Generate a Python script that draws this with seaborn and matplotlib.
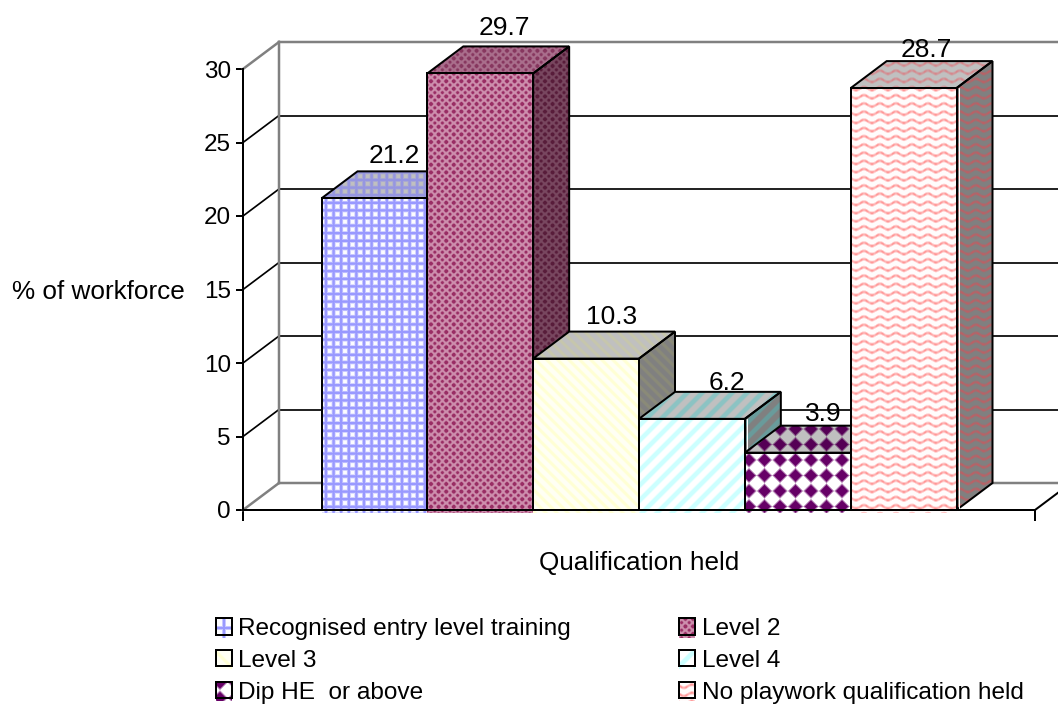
import numpy as np
import pandas as pd
import matplotlib
matplotlib.use("Agg")
import matplotlib.pyplot as plt
import seaborn as sns
from matplotlib.patches import Patch, Polygon, Rectangle
from matplotlib.path import Path
from matplotlib.transforms import IdentityTransform

# Chart data
qualifications = ["Recognised entry level training", "Level 2", "Level 3",
                  "Level 4", "Dip HE  or above", "No playwork qualification held"]
workforce_pct = [21.2, 29.7, 10.3, 6.2, 3.9, 28.7]
y_ticks = [0, 5, 10, 15, 20, 25, 30]

# Canvas and plot geometry (pixels)
W, H = 1058, 704
LEFT, RIGHT, BASE, TOP = 243, 1035, 510, 69
DEPTH_PX = (36, 27)
TITLE_FONT = 18.8
VALUE_FONT = 19
TICK_FONT = 17.5
LEGEND_FONT = 17.6
PX = 72 / 100          # points per pixel

sns.set_theme(style="white")
plt.rcParams["font.family"] = ["Liberation Sans", "DejaVu Sans"]
plt.rcParams["text.color"] = "black"

fig = plt.figure(figsize=(W / 100, H / 100), dpi=100, facecolor="white")
ax = fig.add_axes([LEFT / W, 1 - BASE / H, (RIGHT - LEFT) / W, (BASE - TOP) / H])
ax.set_facecolor("none")

frame = pd.DataFrame({"group": ["all"] * len(workforce_pct),
                      "qualification": qualifications,
                      "pct": workforce_pct})
base_colors = ["#E0E0FF", "#C88AA8", "#FFFFE0", "#E4FFFF", "#B080B0", "#FFE0E0"]
sns.barplot(data=frame, x="group", y="pct", hue="qualification",
            hue_order=qualifications, palette=base_colors, saturation=1,
            width=635 / 792, gap=0, edgecolor="black", linewidth=2 * PX,
            legend=False, ax=ax)
ax.set_xlim(-0.5, 0.5)
ax.set_ylim(0, 30)
dx = DEPTH_PX[0] / (RIGHT - LEFT)
dy = DEPTH_PX[1] / (BASE - TOP) * 30


# Fill textures, evaluated on screen pixels
yy, xx = np.mgrid[0:H, 0:W] + 0.5


def soft(d, inner, outer):
    return np.clip((outer - d) / (outer - inner), 0, 1)


def wrapped(v, period):
    return np.abs((v + period / 2) % period - period / 2)


def grid_mask(x, y, scale=1.0):
    p = 7.6 * scale
    mx = soft(wrapped(x - 326, p), 0.7, 2.4)
    my = soft(wrapped(y - 484, p), 0.7, 2.4)
    return np.maximum(mx, my)


def confetti_mask(x, y, scale=1.0):
    p = 7.6 * scale
    a = np.cos(2 * np.pi * (x - 431) / p)
    b = np.cos(2 * np.pi * (y - 484) / p)
    f = (a + b) / 2
    return np.clip(0.3 + 1.2 * f ** 2 + 0.25 * f, 0, 1)


def falling_stripes(x, y, scale=1.0):
    return soft(wrapped(x - y, 11 * scale), 1.2, 3.2)


def rising_stripes(x, y, scale=1.0):
    return soft(wrapped(x + y, 15 * scale), 2.2, 4.4)


def diamond_mask(x, y, scale=1.0):
    p = 15.5 * scale
    d = wrapped(x - 749, p) + wrapped(y - 460, p)
    return soft(d, 5.4 * scale, 8.4 * scale)


def wave_mask(x, y, scale=1.0):
    shifted = y - 1.6 * np.cos(2 * np.pi * (x - 872) / (16 * scale))
    broken = 0.85 + 0.15 * np.cos(2 * np.pi * (x - 872) / (5.3 * scale))
    return soft(wrapped(shifted - 474, 8.2 * scale), 0.4, 2.2) * broken


masks = [grid_mask, confetti_mask, falling_stripes, rising_stripes, diamond_mask, wave_mask]

# Per-series colours: front (fg, bg), top (fg, bg), side (fg, bg)
face_colors = [
    (((153, 153, 255), (252, 252, 255)), ((150, 150, 225), (192, 192, 192)), ((95, 95, 150), (128, 128, 128))),
    (((153, 45, 100), (228, 185, 205)), ((135, 55, 95), (185, 135, 160)), ((88, 28, 58), (135, 90, 112))),
    (((255, 255, 212), (255, 255, 244)), ((198, 198, 172), (192, 192, 192)), ((138, 138, 120), (128, 128, 128))),
    (((204, 255, 255), (255, 255, 255)), ((140, 195, 195), (192, 192, 192)), ((105, 155, 155), (128, 128, 128))),
    (((102, 0, 102), (255, 255, 255)), ((85, 0, 85), (192, 192, 192)), ((60, 0, 60), (128, 128, 128))),
    (((255, 150, 150), (255, 252, 252)), ((215, 135, 140), (192, 192, 192)), ((190, 95, 100), (128, 128, 128))),
]


def compose(mask, fg, bg):
    m = mask[..., None]
    return (m * np.array(fg) + (1 - m) * np.array(bg)).astype(np.uint8)


def textured(rgb, path, transform, z):
    im = ax.imshow(rgb, extent=(0, W, 0, H), origin="upper", aspect="auto",
                   interpolation="nearest", transform=IdentityTransform(), zorder=z)
    im.set_clip_box(fig.bbox)
    im.set_clip_path(path, transform)
    return im


# Back walls, floor and grid of the 3D frame
x0, x1 = -0.5, 0.5
wall = dict(color="#808080", lw=2.5 * PX, clip_on=False, zorder=1, solid_capstyle="projecting")
grid = dict(color="black", lw=1.7 * PX, clip_on=False, zorder=1)
for tick in y_ticks:
    style = wall if tick in (y_ticks[0], y_ticks[-1]) else grid
    ax.plot([x0, x0 + dx], [tick, tick + dy], **style)
    ax.plot([x0 + dx, x1 + dx], [tick + dy, tick + dy], **style)
ax.plot([x0 + dx, x0 + dx], [dy, y_ticks[-1] + dy], **wall)
ax.plot([x1, x1 + dx], [0, dy], color="black", lw=2 * PX, clip_on=False, zorder=1)

# Each bar: top and side faces first, front face over them, left to right
edge = dict(facecolor="none", edgecolor="black", linewidth=2 * PX, clip_on=False, joinstyle="miter")
light_seam = (3, 5)
seam_gap = 2 / (RIGHT - LEFT)
bars = list(ax.patches)
for i, (bar, value) in enumerate(zip(bars, workforce_pct)):
    z = 3 + i * 0.1
    left, right = bar.get_x(), bar.get_x() + bar.get_width()
    mask = masks[i](xx, yy)
    front_c, top_c, side_c = face_colors[i]
    bar.set_zorder(z + 0.03)
    bar.set_clip_on(False)

    top_pts = [(left, value), (right, value), (right + dx, value + dy), (left + dx, value + dy)]
    side_pts = [(right, 0), (right + dx, dy), (right + dx, value + dy), (right, value)]
    for pts, colors in ((top_pts, top_c), (side_pts, side_c)):
        textured(compose(mask, *colors), Path(pts + pts[:1]), ax.transData, z)
        ax.add_patch(Polygon(pts, zorder=z + 0.01, **edge))
    if i in light_seam:
        ax.plot([right + seam_gap] * 2, [0, value], color="white", lw=1 * PX, zorder=z + 0.02, clip_on=False)

    front_pts = [(left, -0.22), (right, -0.22), (right, value), (left, value)]
    textured(compose(mask, *front_c), Path(front_pts + front_pts[:1]), ax.transData, z + 0.04)
    ax.add_patch(Rectangle((left, 0), right - left, value, zorder=z + 0.05, **edge))

# Value labels above the back edge of each bar
label_nudge_px = [(20, 15), (24, 18), (25, 15), (35, 9), (26, 12), (23, 11)]
for bar, value, (nx, ny) in zip(bars, workforce_pct, label_nudge_px):
    cx = bar.get_x() + bar.get_width() / 2
    ax.annotate(f"{value:g}", xy=(cx, value + dy), xytext=(nx * PX, ny * PX),
                textcoords="offset points", ha="center", va="center",
                fontsize=VALUE_FONT, zorder=9, annotation_clip=False)

# Axes
ax.set_yticks(y_ticks)
ax.set_xticks([x0, x1], ["", ""])
for name, spine in ax.spines.items():
    spine.set_visible(name in ("left", "bottom"))
    spine.set_color("black")
    spine.set_linewidth(2 * PX)
    spine.set_zorder(8)
ax.tick_params(axis="y", length=7 * PX, width=2 * PX, color="black", pad=5 * PX,
               labelsize=TICK_FONT, labelcolor="black", left=True)
ax.tick_params(axis="x", length=11 * PX, width=2 * PX, color="black", bottom=True)
ax.set_xlabel("Qualification held", fontsize=TITLE_FONT, color="black", va="center")
ax.xaxis.set_label_coords(0.5, (BASE - 563) / (BASE - TOP))
ax.set_ylabel("% of workforce", fontsize=TITLE_FONT, color="black", rotation=0, ha="right", va="center")
ax.yaxis.set_label_coords((185 - LEFT) / (RIGHT - LEFT), (BASE - 292) / (BASE - TOP))

# Two-column legend, filled row by row
order = [0, 2, 4, 1, 3, 5]
handles = [Patch(facecolor="white", edgecolor="black", linewidth=2 * PX) for _ in order]
legend = ax.legend(handles, [qualifications[i] for i in order], ncols=2, frameon=False,
                   loc="upper left", bbox_to_anchor=(216 / W, 1 - 618 / H),
                   bbox_transform=fig.transFigure, borderpad=0, borderaxespad=0,
                   fontsize=LEGEND_FONT, handlelength=0.65, handleheight=0.65, handletextpad=0.27,
                   labelspacing=0.40, columnspacing=4.42)
fig.canvas.draw()

# Swatch textures sit on the legend keys at their own scale
swatch_scale = [1.9, 1.0, 1.8, 1.3, 1.0, 1.0]
swatch_shift = [(102, -144), (-262, -150), (0, 0), (0, 0), (529, -238), (-180, 165)]
for handle, i in zip(legend.legend_handles, order):
    box = handle.get_window_extent()
    sx, sy = swatch_shift[i]
    mask = masks[i](xx + sx, yy + sy, swatch_scale[i])
    rgb = compose(mask, *face_colors[i][0])
    clip = Path([(box.x0, box.y0 - 3), (box.x1, box.y0 - 3), (box.x1, box.y1), (box.x0, box.y1), (box.x0, box.y0 - 3)])
    textured(rgb, clip, IdentityTransform(), 6)
    ax.add_patch(Rectangle((box.x0, box.y0), box.width, box.height, transform=IdentityTransform(),
                           zorder=7, **edge))

ax.set_xlim(-0.5, 0.5)
ax.set_ylim(0, 30)
fig.savefig("out.png", dpi=100, facecolor="white")
